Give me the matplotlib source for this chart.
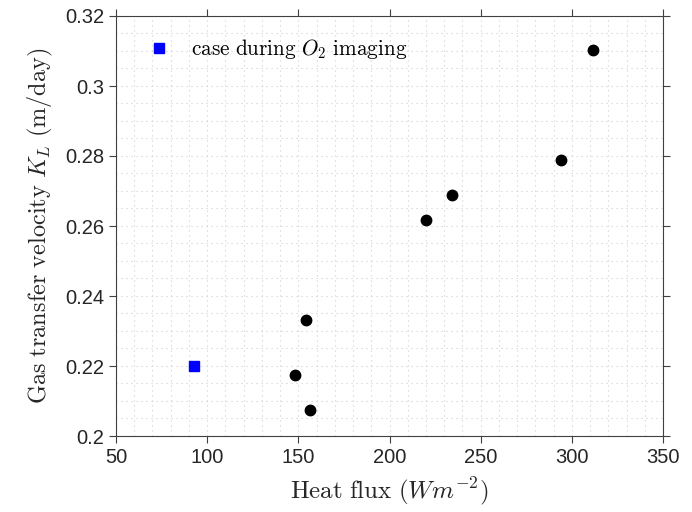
import matplotlib
matplotlib.use("Agg")
import matplotlib.pyplot as plt
from matplotlib.ticker import MultipleLocator

plt.rcParams['mathtext.fontset'] = 'cm'
plt.rcParams['font.family'] = ['Liberation Sans', 'DejaVu Sans']

heat_flux = [148.4, 154.1, 156.4, 220.0, 234.5, 294.3, 311.8]
kl = [0.2173, 0.2330, 0.2074, 0.2616, 0.2689, 0.2789, 0.3103]
o2_flux = [92.9]
o2_kl = [0.2199]
legend_label = r'$\mathrm{case\ during}\ O_2\ \mathrm{imaging}$'
x_ticks = [50, 100, 150, 200, 250, 300, 350]
y_ticks = [0.2, 0.22, 0.24, 0.26, 0.28, 0.3, 0.32]
y_tick_labels = ['0.2', '0.22', '0.24', '0.26', '0.28', '0.3', '0.32']

fig = plt.figure(figsize=(6.92, 5.12), dpi=100)
ax = fig.add_axes([116 / 692, (512 - 436) / 512, (663 - 116) / 692, (436 - 16) / 512])

ax.plot(o2_flux, o2_kl, 's', color='#0000ff', ms=6.5, label=legend_label, zorder=3)
ax.plot(heat_flux, kl, 'o', color='black', ms=7.5, zorder=3)

ax.set_xlim(50, 350)
ax.set_ylim(0.2, 0.32)
ax.set_xticks(x_ticks)
ax.set_yticks(y_ticks)
ax.set_yticklabels(y_tick_labels)
ax.xaxis.set_minor_locator(MultipleLocator(10))
ax.yaxis.set_minor_locator(MultipleLocator(0.005))

grid_kw = dict(color='#cfcfcf', linestyle=(0, (1, 3.5)), linewidth=0.8)
ax.grid(True, which='major', **grid_kw)
ax.grid(True, which='minor', **grid_kw)
ax.set_axisbelow(True)

ax.tick_params(which='major', direction='out', length=5, width=0.8, colors='#404040',
               labelcolor='#262626', labelsize=14.5, top=True, right=True)
ax.tick_params(which='minor', length=0, top=False, right=False)
for s in ax.spines.values():
    s.set_color('#404040')
    s.set_linewidth(0.8)

ax.set_xlabel(r'$\mathrm{Heat\ flux}\ (Wm^{-2})$', fontsize=18, color='#262626', labelpad=6)
ax.set_ylabel(r'$\mathrm{Gas\ transfer\ velocity}\ K_L\ \mathrm{(m/day)}$', fontsize=17.5,
              color='#262626', labelpad=7)

leg = ax.legend(loc='upper left', frameon=False, fontsize=15.3, handlelength=1.0,
                handletextpad=1.0, borderaxespad=0.5, bbox_to_anchor=(0.025, 0.995))
for t in leg.get_texts():
    t.set_color('black')

fig.savefig('out.png', dpi=100)
